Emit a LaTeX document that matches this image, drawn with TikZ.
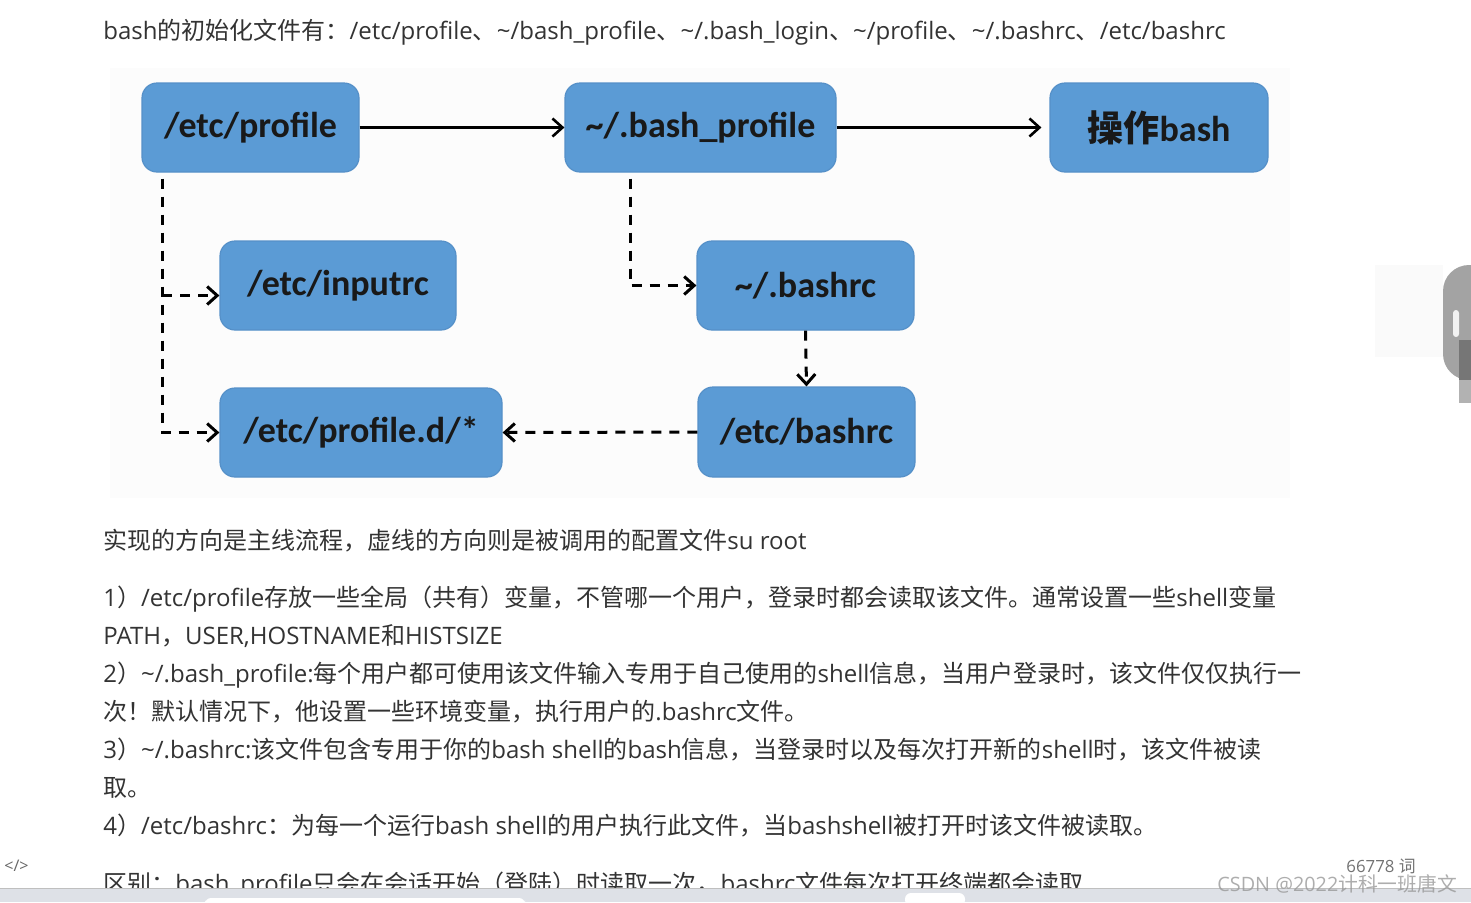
\documentclass[tikz,border=0pt]{standalone}
\usepackage{fontspec}
\setmainfont{Open Sans}
\newfontfamily\zhfont{Noto Sans CJK SC}
\newfontfamily\boxfont{Carlito}
\usetikzlibrary{arrows.meta,calc}
\definecolor{boxblue}{HTML}{5B9BD5}
\definecolor{boxedge}{HTML}{5590C8}
\definecolor{txt}{HTML}{333333}
\definecolor{diagbg}{HTML}{FCFCFC}
\definecolor{sbgray}{HTML}{A3A3A3}
\definecolor{sbdark}{HTML}{767676}
\definecolor{barbg}{HTML}{DEE1E7}
\newcommand\zh[1]{{\zhfont #1}}
\newcommand\tl{\textasciitilde}
\tikzset{
  fbox/.style={draw=boxedge, line width=0.6pt, fill=boxblue, rounded corners=7.5pt,
    inner sep=0pt, minimum height=44.5pt, text=black!90,
    font=\boxfont\bfseries\fontsize{18pt}{20pt}\selectfont},
  bodyline/.style={anchor=base west, inner sep=0pt, text=txt,
    font=\fontsize{12pt}{14pt}\selectfont},
  mainflow/.style={line width=1.3pt, -{Straight Barb[length=5pt,width=9pt,line width=1.3pt]}},
  callflow/.style={line width=1.5pt, dash pattern=on 5pt off 4pt,
    -{Straight Barb[length=5pt,width=9pt,line width=1.5pt]}},
}
\begin{document}
\begin{tikzpicture}[x=0.5pt, y=-0.5pt]
\useasboundingbox (0,0) rectangle (1471,902);
\fill[white] (0,0) rectangle (1471,902);

% top text
\node[bodyline] (t1) at (103,39) {bash\zh{的初始化文件有：}/etc/profile\zh{、}\tl/bash\_profile\zh{、}\tl/.bash\_login\zh{、}\tl/profile\zh{、}\tl/.bashrc\zh{、}/etc/bashrc};

% diagram background
\fill[diagbg] (110,68) rectangle (1290,498);

% boxes
\node[fbox, minimum width=108.5pt] (prof) at (250.5,127.5) {/etc/profile};
\node[fbox, minimum width=135.5pt] (bprof) at (700.5,127.5) {\tl/.bash\_profile};
\node[fbox, minimum width=109pt] (opbash) at (1159,127.5) {{\zhfont\bfseries 操作}bash};
\node[fbox, minimum width=118pt] (inputrc) at (338,285.5) {/etc/inputrc};
\node[fbox, minimum width=108.5pt] (bashrc) at (805.5,285.5) {\tl/.bashrc};
\node[fbox, minimum width=141pt] (profd) at (361,432.5) {/etc/profile.d/*};
\node[fbox, minimum width=108.5pt, minimum height=45pt] (ebashrc) at (806.5,432) {/etc/bashrc};

% main flow
\draw[mainflow] (prof.east) -- (bprof.west);
\draw[mainflow, shorten >=4pt] (bprof.east) -- (opbash.west);

% called files
\coordinate (d1) at ($(prof.south west)+(21,6)$);
\coordinate (d1b) at ($(inputrc.west)+(0,10)$);
\draw[callflow] (d1) |- (profd.west);
\draw[callflow] (d1 |- d1b) -- (d1b);
\coordinate (d2) at ($(bprof.south west)+(66,6)$);
\draw[callflow] (d2) |- (bashrc.west);
\draw[callflow] (bashrc.south) -- (ebashrc.north);
\draw[callflow] (ebashrc.west) -- (profd.east);

% body text
\node[bodyline] (t2) at (103,549) {\zh{实现的方向是主线流程，虚线的方向则是被调用的配置文件}su root};
\node[bodyline] (p1) at (103,606) {1\zh{）}/etc/profile\zh{存放一些全局（共有）变量，不管哪一个用户，登录时都会读取该文件。通常设置一些}shell\zh{变量}};
\node[bodyline] (p1b) at (103,644) {PATH\zh{，}USER,HOSTNAME\zh{和}HISTSIZE};
\node[bodyline] (p2) at (103,682) {2\zh{）}\tl/.bash\_profile:\zh{每个用户都可使用该文件输入专用于自己使用的}shell\zh{信息，当用户登录时，该文件仅仅执行一}};
\node[bodyline] (p2b) at (103,720) {\zh{次！默认情况下，他设置一些环境变量，执行用户的}.bashrc\zh{文件。}};
\node[bodyline] (p3) at (103,758) {3\zh{）}\tl/.bashrc:\zh{该文件包含专用于你的}bash shell\zh{的}bash\zh{信息，当登录时以及每次打开新的}shell\zh{时，该文件被读}};
\node[bodyline] (p3b) at (103,796) {\zh{取。}};
\node[bodyline] (p4) at (103,834) {4\zh{）}/etc/bashrc\zh{：为每一个运行}bash shell\zh{的用户执行此文件，当}bashshell\zh{被打开时该文件被读取。}};
\node[bodyline] (p5) at (103,892) {\zh{区别：}bash\_profile\zh{只会在会话开始（登陆）时读取一次，}bashrc\zh{文件每次打开终端都会读取}};

% left code icon
\node[anchor=base west, inner sep=0pt, text=black!60, font=\fontsize{8pt}{9pt}\selectfont] (code) at (4,871) {</>};

% bottom bar
\fill[barbg] (0,888) rectangle (1471,902);
\draw[black!25, line width=0.5pt] (0,888) -- (1471,888);
\fill[white, rounded corners=3pt] (205,898) rectangle (525,906);
\fill[white, rounded corners=3pt] (905,893) rectangle (965,906);

% word count and watermark
\node[anchor=base west, inner sep=0pt, text=black!55, font=\fontsize{8.4pt}{9pt}\selectfont] (wc) at (1346,872) {66778 \zh{词}};
\node[anchor=base west, inner sep=0pt, text=black!40, opacity=0.8, font=\fontsize{9.9pt}{10pt}\selectfont] (wm) at (1217,891) {CSDN @2022\zh{计科一班唐文}};

% scrollbar
\fill[black!2] (1375,265) rectangle (1443,357);
\fill[sbgray] (1471,265) [rounded corners=13pt] -- (1443,265) -- (1443,380) [sharp corners] -- (1471,380) -- cycle;
\fill[sbdark] (1459,340) rectangle (1471,380);
\fill[black!30] (1459,380) rectangle (1471,403);
\fill[white!95!black, rounded corners=1.5pt] (1453,310) rectangle (1459,337);
\end{tikzpicture}
\end{document}
